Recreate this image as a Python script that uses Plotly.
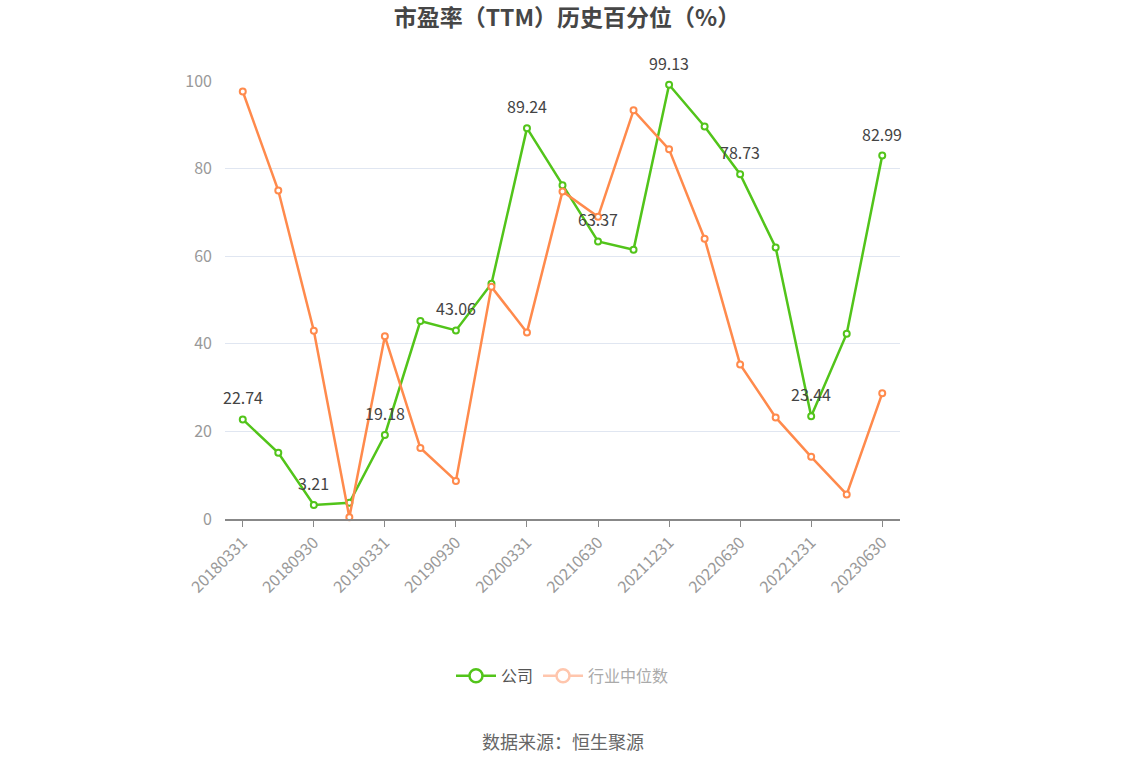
import plotly.graph_objects as go

categories = ["20180331", "20180630", "20180930", "20181231", "20190331", "20190630",
              "20190930", "20191231", "20200331", "20201231", "20210630", "20210930",
              "20211231", "20220331", "20220630", "20220930", "20221231", "20230331",
              "20230630"]
company = [22.74, 15.1, 3.21, 3.7, 19.18, 45.2, 43.06, 53.7, 89.24, 76.2, 63.37, 61.5,
           99.13, 89.6, 78.73, 62.0, 23.44, 42.3, 82.99]
industry = [97.6, 75.0, 43.0, 0.4, 41.7, 16.2, 8.7, 53.0, 42.6, 74.8, 69.0, 93.3,
            84.4, 64.0, 35.3, 23.2, 14.2, 5.6, 28.7]
tick_labels = categories[::2]

GREEN = "#52C41A"
ORANGE = "#FF8A4C"
FONT = "Noto Sans CJK SC"

fig = go.Figure()
fig.add_trace(go.Scatter(
    x=categories, y=company, name="公司", mode="lines+markers", showlegend=False,
    line=dict(color=GREEN, width=2.5),
    marker=dict(symbol="circle", size=6, color="white", line=dict(color=GREEN, width=2)),
    cliponaxis=False,
))
fig.add_trace(go.Scatter(
    x=categories, y=industry, name="行业中位数", mode="lines+markers", showlegend=False,
    line=dict(color=ORANGE, width=2.5),
    marker=dict(symbol="circle", size=6, color="white", line=dict(color=ORANGE, width=2)),
    cliponaxis=False,
))
# legend entries
fig.add_trace(go.Scatter(
    x=[None], y=[None], name="公司", mode="lines+markers",
    line=dict(color=GREEN, width=2.5),
    marker=dict(symbol="circle", size=13, color="white", line=dict(color=GREEN, width=2.5)),
))
fig.add_trace(go.Scatter(
    x=[None], y=[None], name="<span style='color:#AAAAAA'>行业中位数</span>", mode="lines+markers",
    line=dict(color="#FFC6AD", width=2.5),
    marker=dict(symbol="circle", size=13, color="white", line=dict(color="#FFC6AD", width=2.5)),
))

annotations = []
for i, v in enumerate(company):
    if i % 2 == 0:
        annotations.append(dict(x=i, y=v, xref="x", yref="y", text=f"{v:.2f}",
                                showarrow=False, yshift=22, xanchor="center", yanchor="middle",
                                font=dict(size=16, color="#444", family=FONT)))
annotations.append(dict(text="数据来源：恒生聚源", x=0.5, y=-0.507, xref="paper", yref="paper",
                        xanchor="center", yanchor="middle", showarrow=False,
                        font=dict(size=18, color="#666", family=FONT)))

fig.update_layout(
    width=1134, height=766,
    margin=dict(l=225, r=234, t=81, b=247),
    paper_bgcolor="white", plot_bgcolor="white",
    font=dict(family=FONT, color="#999"),
    title=dict(text="<b>市盈率（TTM）历史百分位（%）</b>", x=0.5, xanchor="center",
               y=0.977, yanchor="middle",
               font=dict(size=23, color="#464646", family=FONT)),
    showlegend=True,
    legend=dict(orientation="h", x=0.5, xanchor="center", y=-0.358, yanchor="middle",
                font=dict(size=16, color="#555", family=FONT), itemwidth=40,
                traceorder="normal"),
    annotations=annotations,
)
fig.update_xaxes(
    type="category", range=[-0.5, len(categories) - 0.5],
    tickmode="array", tickvals=tick_labels, ticktext=tick_labels,
    tickangle=-45, tickfont=dict(size=16, color="#999", family=FONT),
    showline=True, linecolor="#888", linewidth=1.5,
    ticks="outside", ticklen=6, tickcolor="#888",
    showgrid=False, zeroline=False,
)
fig.update_yaxes(
    range=[0, 100], tickvals=[0, 20, 40, 60, 80, 100],
    tickfont=dict(size=16, color="#999", family=FONT),
    showgrid=True, gridcolor="#E0E6F1", gridwidth=1,
    zeroline=False, showline=False, ticks="", ticklabelstandoff=12,
)

fig.write_html("out.html")
